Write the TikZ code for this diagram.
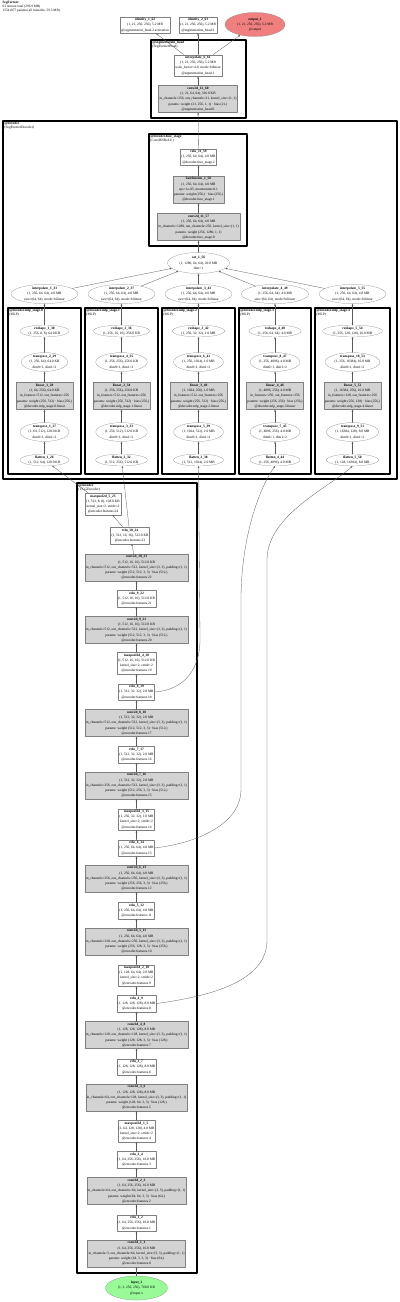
\documentclass[tikz,border=0pt]{standalone}
\usepackage{fontspec}
\setmainfont{Liberation Serif}
\usetikzlibrary{shapes.geometric,arrows.meta}
\definecolor{paramfill}{HTML}{D3D3D3}
\definecolor{edgecol}{HTML}{5A5A5A}
\definecolor{outfill}{HTML}{F08080}
\definecolor{infill}{HTML}{98FB98}
\begin{document}
\catcode`\_=12
\begin{tikzpicture}[x=2pt, y=-2pt, font=\fontsize{7}{10.4}\selectfont, line join=round, line cap=round, >={Stealth[length=4.5pt,width=3.4pt]},
	layer/.style={draw=gray, fill=white, align=center, inner xsep=2pt, inner ysep=3pt},
	wlayer/.style={layer, fill=paramfill},
	func/.style={ellipse, draw=gray, fill=white, align=center, inner xsep=3pt, inner ysep=0pt},
	interp/.style={func, minimum width=134pt},
	grp/.style={draw=black, line width=2.2pt},
	grplbl/.style={anchor=north west, align=left, inner sep=0.5pt, font=\fontsize{7}{8}\selectfont},
	flow/.style={->, draw=edgecol, line width=0.6pt}]
	\useasboundingbox (0,0) rectangle (400,1302);
	\node[anchor=north west, align=left, inner sep=0pt, font=\fontsize{6.8}{8}\selectfont] (title) at (2.5,1) {\textbf{SegFormer}\\63 tensors total (296.9 MB)\\15541077 params (all trainable, 59.3 MB)};
	% outputs
	\node[layer] (identity_1_62) at (145,25) {\textbf{identity_1_62}\\(1, 21, 256, 256), 5.2 MB\\@segmentation_head.2.activation};
	\node[layer] (identity_2_63) at (198,25) {\textbf{identity_2_63}\\(1, 21, 256, 256), 5.2 MB\\@segmentation_head.3};
	\node[func, fill=outfill, minimum width=120pt, minimum height=48pt] (output_1) at (255,24.5) {\textbf{output_1}\\(1, 21, 256, 256), 5.2 MB\\@output};
	% segmentation head
	\draw[grp] (151,40) rectangle (246,118);
	\node[grplbl] (seghead) at (152,40.8) {\textbf{@segmentation_head}\\(SegFormerHead)};
	\node[layer] (interpolate_6_61) at (198,65.5) {\textbf{interpolate_6_61}\\(1, 21, 256, 256), 5.2 MB\\scale_factor=4.0, mode=bilinear\\@segmentation_head.1};
	\node[wlayer] (conv2d_12_60) at (198,99) {\textbf{conv2d_12_60}\\(1, 21, 64, 64), 336.0 KB\\in_channels=256, out_channels=21, kernel_size=(1, 1)\\params: weight (21, 256, 1, 1) · bias (21,)\\@segmentation_head.0};
	% decoder
	\draw[grp] (3,121) rectangle (397,479);
	\node[grplbl] (decoder) at (4,121.8) {\textbf{@decoder}\\(SegFormerDecoder)};
	\draw[grp] (149,134) rectangle (247,246);
	\node[grplbl] (fuse) at (150,134.8) {\textbf{@decoder.fuse_stage}\\(ConvBNReLU)};
	\node[layer] (relu_11_59) at (198.5,157) {\textbf{relu_11_59}\\(1, 256, 64, 64), 4.0 MB\\@decoder.fuse_stage.2};
	\node[wlayer] (batchnorm_1_58) at (198.5,189.5) {\textbf{batchnorm_1_58}\\(1, 256, 64, 64), 4.0 MB\\eps=1e-05, momentum=0.1\\params: weight (256,) · bias (256,)\\@decoder.fuse_stage.1};
	\node[wlayer] (conv2d_11_57) at (198.5,227) {\textbf{conv2d_11_57}\\(1, 256, 64, 64), 4.0 MB\\in_channels=1280, out_channels=256, kernel_size=(1, 1)\\params: weight (256, 1280, 1, 1)\\@decoder.fuse_stage.0};
	\node[func, minimum width=124pt, minimum height=42pt] (cat_1_56) at (198.5,263) {\textbf{cat_1_56}\\(1, 1280, 64, 64), 20.0 MB\\dim=1};
	\node[interp] (interpolate_1_31) at (44.5,294) {\textbf{interpolate_1_31}\\(1, 256, 64, 64), 4.0 MB\\size=(64, 64), mode=bilinear};
	\node[interp] (interpolate_2_37) at (121.5,294) {\textbf{interpolate_2_37}\\(1, 256, 64, 64), 4.0 MB\\size=(64, 64), mode=bilinear};
	\node[interp] (interpolate_3_43) at (198.5,294) {\textbf{interpolate_3_43}\\(1, 256, 64, 64), 4.0 MB\\size=(64, 64), mode=bilinear};
	\node[interp] (interpolate_4_49) at (275,294) {\textbf{interpolate_4_49}\\(1, 256, 64, 64), 4.0 MB\\size=(64, 64), mode=bilinear};
	\node[interp] (interpolate_5_55) at (352.5,294) {\textbf{interpolate_5_55}\\(1, 256, 64, 64), 4.0 MB\\size=(64, 64), mode=bilinear};
	% mlp stage 0
	\draw[grp] (8,308) rectangle (81,474);
	\node[grplbl] (mlp0) at (9,308.8) {\textbf{@decoder.mlp_stage.0}\\(MLP)};
	\node[func] (reshape_1_30) at (44.5,331) {\textbf{reshape_1_30}\\(1, 256, 8, 8), 64.0 KB};
	\node[func] (transpose_2_29) at (44.5,362) {\textbf{transpose_2_29}\\(1, 256, 64), 64.0 KB\\dim0=1, dim1=2};
	\node[wlayer] (linear_1_28) at (44.5,396) {\textbf{linear_1_28}\\(1, 64, 256), 64.0 KB\\in_features=512, out_features=256\\params: weight (256, 512) · bias (256,)\\@decoder.mlp_stage.0.linear};
	\node[func] (transpose_1_27) at (44.5,432) {\textbf{transpose_1_27}\\(1, 64, 512), 128.0 KB\\dim0=1, dim1=2};
	\node[func] (flatten_1_26) at (44.5,460) {\textbf{flatten_1_26}\\(1, 512, 64), 128.0 KB};
	% mlp stage 1
	\draw[grp] (85,308) rectangle (158,474);
	\node[grplbl] (mlp1) at (86,308.8) {\textbf{@decoder.mlp_stage.1}\\(MLP)};
	\node[func] (reshape_2_36) at (121.5,331) {\textbf{reshape_2_36}\\(1, 256, 16, 16), 256.0 KB};
	\node[func] (transpose_4_35) at (121.5,362) {\textbf{transpose_4_35}\\(1, 256, 256), 256.0 KB\\dim0=1, dim1=2};
	\node[wlayer] (linear_2_34) at (121.5,396) {\textbf{linear_2_34}\\(1, 256, 256), 256.0 KB\\in_features=512, out_features=256\\params: weight (256, 512) · bias (256,)\\@decoder.mlp_stage.1.linear};
	\node[func] (transpose_3_33) at (121.5,432) {\textbf{transpose_3_33}\\(1, 256, 512), 512.0 KB\\dim0=1, dim1=2};
	\node[func] (flatten_2_32) at (121.5,460) {\textbf{flatten_2_32}\\(1, 512, 256), 512.0 KB};
	% mlp stage 2
	\draw[grp] (162,308) rectangle (235,474);
	\node[grplbl] (mlp2) at (163,308.8) {\textbf{@decoder.mlp_stage.2}\\(MLP)};
	\node[func] (reshape_3_42) at (198.5,331) {\textbf{reshape_3_42}\\(1, 256, 32, 32), 1.0 MB};
	\node[func] (transpose_6_41) at (198.5,362) {\textbf{transpose_6_41}\\(1, 256, 1024), 1.0 MB\\dim0=1, dim1=2};
	\node[wlayer] (linear_3_40) at (198.5,396) {\textbf{linear_3_40}\\(1, 1024, 256), 1.0 MB\\in_features=512, out_features=256\\params: weight (256, 512) · bias (256,)\\@decoder.mlp_stage.2.linear};
	\node[func] (transpose_5_39) at (198.5,432) {\textbf{transpose_5_39}\\(1, 1024, 512), 2.0 MB\\dim0=1, dim1=2};
	\node[func] (flatten_3_38) at (198.5,460) {\textbf{flatten_3_38}\\(1, 512, 1024), 2.0 MB};
	% mlp stage 3
	\draw[grp] (239,308) rectangle (311,474);
	\node[grplbl] (mlp3) at (240,308.8) {\textbf{@decoder.mlp_stage.3}\\(MLP)};
	\node[func] (reshape_4_48) at (275,331) {\textbf{reshape_4_48}\\(1, 256, 64, 64), 4.0 MB};
	\node[func] (transpose_8_47) at (275,362) {\textbf{transpose_8_47}\\(1, 256, 4096), 4.0 MB\\dim0=1, dim1=2};
	\node[wlayer] (linear_4_46) at (275,396) {\textbf{linear_4_46}\\(1, 4096, 256), 4.0 MB\\in_features=256, out_features=256\\params: weight (256, 256) · bias (256,)\\@decoder.mlp_stage.3.linear};
	\node[func] (transpose_7_45) at (275,432) {\textbf{transpose_7_45}\\(1, 4096, 256), 4.0 MB\\dim0=1, dim1=2};
	\node[func] (flatten_4_44) at (275,460) {\textbf{flatten_4_44}\\(1, 256, 4096), 4.0 MB};
	% mlp stage 4
	\draw[grp] (315,308) rectangle (390,474);
	\node[grplbl] (mlp4) at (316,308.8) {\textbf{@decoder.mlp_stage.4}\\(MLP)};
	\node[func] (reshape_5_54) at (352.5,331) {\textbf{reshape_5_54}\\(1, 256, 128, 128), 16.0 MB};
	\node[func] (transpose_10_53) at (352.5,362) {\textbf{transpose_10_53}\\(1, 256, 16384), 16.0 MB\\dim0=1, dim1=2};
	\node[wlayer] (linear_5_52) at (352.5,396) {\textbf{linear_5_52}\\(1, 16384, 256), 16.0 MB\\in_features=128, out_features=256\\params: weight (256, 128) · bias (256,)\\@decoder.mlp_stage.4.linear};
	\node[func] (transpose_9_51) at (352.5,432) {\textbf{transpose_9_51}\\(1, 16384, 128), 8.0 MB\\dim0=1, dim1=2};
	\node[func] (flatten_5_50) at (352.5,460) {\textbf{flatten_5_50}\\(1, 128, 16384), 8.0 MB};
	% encoder
	\draw[grp] (77,483) rectangle (197,1273);
	\node[grplbl] (encoder) at (78,483.8) {\textbf{@encoder}\\(VGGEncoder)};
	\node[layer] (maxpool2d_5_25) at (103,504) {\textbf{maxpool2d_5_25}\\(1, 512, 8, 8), 128.0 KB\\kernel_size=2, stride=2\\@encoder.features.24};
	\node[layer] (relu_10_24) at (130,535.5) {\textbf{relu_10_24}\\(1, 512, 16, 16), 512.0 KB\\@encoder.features.23};
	\node[wlayer] (conv2d_10_23) at (136.5,567.5) {\textbf{conv2d_10_23}\\(1, 512, 16, 16), 512.0 KB\\in_channels=512, out_channels=512, kernel_size=(3, 3), padding=(1, 1)\\params: weight (512, 512, 3, 3) · bias (512,)\\@encoder.features.22};
	\node[layer] (relu_9_22) at (136.5,598.5) {\textbf{relu_9_22}\\(1, 512, 16, 16), 512.0 KB\\@encoder.features.21};
	\node[wlayer] (conv2d_9_21) at (136.5,630) {\textbf{conv2d_9_21}\\(1, 512, 16, 16), 512.0 KB\\in_channels=512, out_channels=512, kernel_size=(3, 3), padding=(1, 1)\\params: weight (512, 512, 3, 3) · bias (512,)\\@encoder.features.20};
	\node[layer] (maxpool2d_4_20) at (136.5,663) {\textbf{maxpool2d_4_20}\\(1, 512, 16, 16), 512.0 KB\\kernel_size=2, stride=2\\@encoder.features.19};
	\node[layer] (relu_8_19) at (136.5,692) {\textbf{relu_8_19}\\(1, 512, 32, 32), 2.0 MB\\@encoder.features.18};
	\node[wlayer] (conv2d_8_18) at (136.5,723) {\textbf{conv2d_8_18}\\(1, 512, 32, 32), 2.0 MB\\in_channels=512, out_channels=512, kernel_size=(3, 3), padding=(1, 1)\\params: weight (512, 512, 3, 3) · bias (512,)\\@encoder.features.17};
	\node[layer] (relu_7_17) at (136.5,754.5) {\textbf{relu_7_17}\\(1, 512, 32, 32), 2.0 MB\\@encoder.features.16};
	\node[wlayer] (conv2d_7_16) at (136.5,785.5) {\textbf{conv2d_7_16}\\(1, 512, 32, 32), 2.0 MB\\in_channels=256, out_channels=512, kernel_size=(3, 3), padding=(1, 1)\\params: weight (512, 256, 3, 3) · bias (512,)\\@encoder.features.15};
	\node[layer] (maxpool2d_3_15) at (136.5,819.5) {\textbf{maxpool2d_3_15}\\(1, 256, 32, 32), 1.0 MB\\kernel_size=2, stride=2\\@encoder.features.14};
	\node[layer] (relu_6_14) at (136.5,848) {\textbf{relu_6_14}\\(1, 256, 64, 64), 4.0 MB\\@encoder.features.13};
	\node[wlayer] (conv2d_6_13) at (136.5,878.5) {\textbf{conv2d_6_13}\\(1, 256, 64, 64), 4.0 MB\\in_channels=256, out_channels=256, kernel_size=(3, 3), padding=(1, 1)\\params: weight (256, 256, 3, 3) · bias (256,)\\@encoder.features.12};
	\node[layer] (relu_5_12) at (136.5,910.5) {\textbf{relu_5_12}\\(1, 256, 64, 64), 4.0 MB\\@encoder.features.11};
	\node[wlayer] (conv2d_5_11) at (136.5,941.5) {\textbf{conv2d_5_11}\\(1, 256, 64, 64), 4.0 MB\\in_channels=128, out_channels=256, kernel_size=(3, 3), padding=(1, 1)\\params: weight (256, 128, 3, 3) · bias (256,)\\@encoder.features.10};
	\node[layer] (maxpool2d_2_10) at (136.5,975.5) {\textbf{maxpool2d_2_10}\\(1, 128, 64, 64), 2.0 MB\\kernel_size=2, stride=2\\@encoder.features.9};
	\node[layer] (relu_4_9) at (136.5,1003.5) {\textbf{relu_4_9}\\(1, 128, 128, 128), 8.0 MB\\@encoder.features.8};
	\node[wlayer] (conv2d_4_8) at (136.5,1035) {\textbf{conv2d_4_8}\\(1, 128, 128, 128), 8.0 MB\\in_channels=128, out_channels=128, kernel_size=(3, 3), padding=(1, 1)\\params: weight (128, 128, 3, 3) · bias (128,)\\@encoder.features.7};
	\node[layer] (relu_3_7) at (136.5,1067) {\textbf{relu_3_7}\\(1, 128, 128, 128), 8.0 MB\\@encoder.features.6};
	\node[wlayer] (conv2d_3_6) at (136.5,1097.5) {\textbf{conv2d_3_6}\\(1, 128, 128, 128), 8.0 MB\\in_channels=64, out_channels=128, kernel_size=(3, 3), padding=(1, 1)\\params: weight (128, 64, 3, 3) · bias (128,)\\@encoder.features.5};
	\node[layer] (maxpool2d_1_5) at (136.5,1131) {\textbf{maxpool2d_1_5}\\(1, 64, 128, 128), 4.0 MB\\kernel_size=2, stride=2\\@encoder.features.4};
	\node[layer] (relu_2_4) at (136.5,1159.5) {\textbf{relu_2_4}\\(1, 64, 256, 256), 16.0 MB\\@encoder.features.3};
	\node[wlayer] (conv2d_2_3) at (136.5,1191) {\textbf{conv2d_2_3}\\(1, 64, 256, 256), 16.0 MB\\in_channels=64, out_channels=64, kernel_size=(3, 3), padding=(1, 1)\\params: weight (64, 64, 3, 3) · bias (64,)\\@encoder.features.2};
	\node[layer] (relu_1_2) at (136.5,1223) {\textbf{relu_1_2}\\(1, 64, 256, 256), 16.0 MB\\@encoder.features.1};
	\node[wlayer] (conv2d_1_1) at (136.5,1253.5) {\textbf{conv2d_1_1}\\(1, 64, 256, 256), 16.0 MB\\in_channels=3, out_channels=64, kernel_size=(3, 3), padding=(1, 1)\\params: weight (64, 3, 3, 3) · bias (64,)\\@encoder.features.0};
	\node[func, fill=infill, minimum width=124pt, minimum height=48pt] (input_1) at (136.5,1288) {\textbf{input_1}\\(1, 3, 256, 256), 768.0 KB\\@input.x};
	% bends of the skip edges
	\coordinate (v3) at (200,640);
	\coordinate (v4a) at (241,790);
	\coordinate (v4b) at (241,600);
	\coordinate (v5a) at (267,940);
	\coordinate (v5b) at (267,560);
	% encoder edges
	\draw[flow] (input_1) -- (conv2d_1_1);
	\draw[flow] (conv2d_1_1) -- (relu_1_2);
	\draw[flow] (relu_1_2) -- (conv2d_2_3);
	\draw[flow] (conv2d_2_3) -- (relu_2_4);
	\draw[flow] (relu_2_4) -- (maxpool2d_1_5);
	\draw[flow] (maxpool2d_1_5) -- (conv2d_3_6);
	\draw[flow] (conv2d_3_6) -- (relu_3_7);
	\draw[flow] (relu_3_7) -- (conv2d_4_8);
	\draw[flow] (conv2d_4_8) -- (relu_4_9);
	\draw[flow] (relu_4_9) -- (maxpool2d_2_10);
	\draw[flow] (maxpool2d_2_10) -- (conv2d_5_11);
	\draw[flow] (conv2d_5_11) -- (relu_5_12);
	\draw[flow] (relu_5_12) -- (conv2d_6_13);
	\draw[flow] (conv2d_6_13) -- (relu_6_14);
	\draw[flow] (relu_6_14) -- (maxpool2d_3_15);
	\draw[flow] (maxpool2d_3_15) -- (conv2d_7_16);
	\draw[flow] (conv2d_7_16) -- (relu_7_17);
	\draw[flow] (relu_7_17) -- (conv2d_8_18);
	\draw[flow] (conv2d_8_18) -- (relu_8_19);
	\draw[flow] (relu_8_19) -- (maxpool2d_4_20);
	\draw[flow] (maxpool2d_4_20) -- (conv2d_9_21);
	\draw[flow] (conv2d_9_21) -- (relu_9_22);
	\draw[flow] (relu_9_22) -- (conv2d_10_23);
	\draw[flow] (conv2d_10_23) -- (relu_10_24);
	\draw[flow] (relu_10_24) -- (maxpool2d_5_25);
	% skip edges into the decoder
	\draw[flow] (maxpool2d_5_25) -- (flatten_1_26);
	\draw[flow] (relu_10_24) -- (flatten_2_32);
	\draw[flow] (relu_8_19.east) .. controls (185,690) and (200,668) .. (v3) -- (flatten_3_38);
	\draw[flow] (relu_6_14.east) .. controls (205,842) and (241,820) .. (v4a) -- (v4b) .. controls (241,540) and (258,490) .. (flatten_4_44.south);
	\draw[flow] (relu_4_9.east) .. controls (220,995) and (267,978) .. (v5a) -- (v5b) .. controls (267,515) and (330,487) .. (flatten_5_50.south);
	% mlp stages
	\draw[flow] (flatten_1_26) -- (transpose_1_27);
	\draw[flow] (transpose_1_27) -- (linear_1_28);
	\draw[flow] (linear_1_28) -- (transpose_2_29);
	\draw[flow] (transpose_2_29) -- (reshape_1_30);
	\draw[flow] (reshape_1_30) -- (interpolate_1_31);
	\draw[flow] (flatten_2_32) -- (transpose_3_33);
	\draw[flow] (transpose_3_33) -- (linear_2_34);
	\draw[flow] (linear_2_34) -- (transpose_4_35);
	\draw[flow] (transpose_4_35) -- (reshape_2_36);
	\draw[flow] (reshape_2_36) -- (interpolate_2_37);
	\draw[flow] (flatten_3_38) -- (transpose_5_39);
	\draw[flow] (transpose_5_39) -- (linear_3_40);
	\draw[flow] (linear_3_40) -- (transpose_6_41);
	\draw[flow] (transpose_6_41) -- (reshape_3_42);
	\draw[flow] (reshape_3_42) -- (interpolate_3_43);
	\draw[flow] (flatten_4_44) -- (transpose_7_45);
	\draw[flow] (transpose_7_45) -- (linear_4_46);
	\draw[flow] (linear_4_46) -- (transpose_8_47);
	\draw[flow] (transpose_8_47) -- (reshape_4_48);
	\draw[flow] (reshape_4_48) -- (interpolate_4_49);
	\draw[flow] (flatten_5_50) -- (transpose_9_51);
	\draw[flow] (transpose_9_51) -- (linear_5_52);
	\draw[flow] (linear_5_52) -- (transpose_10_53);
	\draw[flow] (transpose_10_53) -- (reshape_5_54);
	\draw[flow] (reshape_5_54) -- (interpolate_5_55);
	% fuse and head
	\draw[flow] (interpolate_1_31) -- (cat_1_56);
	\draw[flow] (interpolate_2_37) -- (cat_1_56);
	\draw[flow] (interpolate_3_43) -- (cat_1_56);
	\draw[flow] (interpolate_4_49) -- (cat_1_56);
	\draw[flow] (interpolate_5_55) -- (cat_1_56);
	\draw[flow] (cat_1_56) -- (conv2d_11_57);
	\draw[flow] (conv2d_11_57) -- (batchnorm_1_58);
	\draw[flow] (batchnorm_1_58) -- (relu_11_59);
	\draw[flow] (relu_11_59) -- (conv2d_12_60);
	\draw[flow] (conv2d_12_60) -- (interpolate_6_61);
	\draw[flow] (interpolate_6_61) -- (identity_1_62);
	\draw[flow] (interpolate_6_61) -- (identity_2_63);
	\draw[flow] (interpolate_6_61) -- (output_1);
\end{tikzpicture}
\end{document}
